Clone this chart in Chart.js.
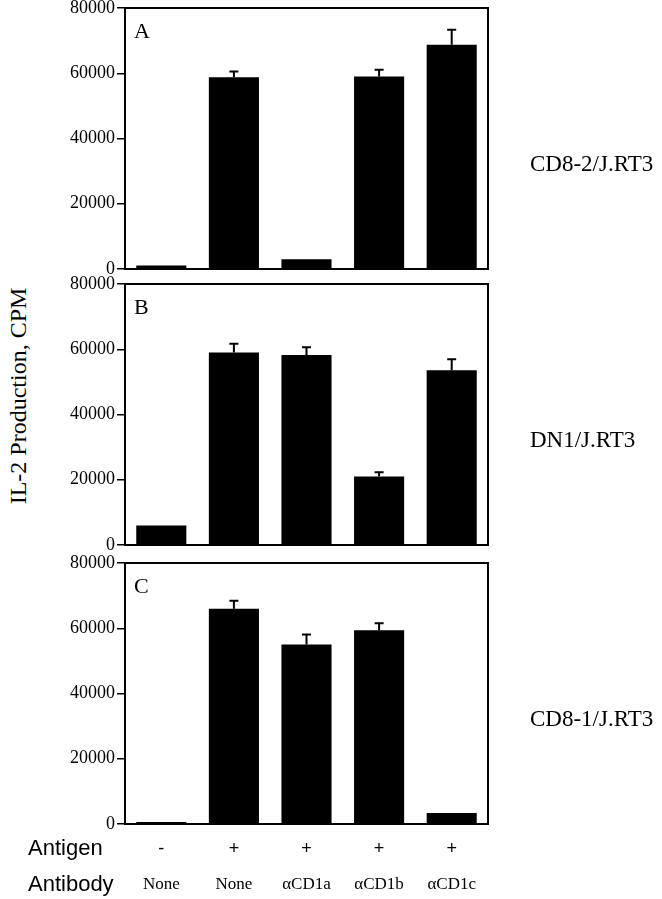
<!DOCTYPE html>
<html lang="en">
<head>
  <meta charset="UTF-8" />
  <title>IL-2 production – anti-CD1 blocking</title>
  <script src="https://cdn.jsdelivr.net/npm/chart.js@4.4.1/dist/chart.umd.min.js"></script>
  <style>
    body {
      margin: 0;
      background: #fff;
      width: 662px;
      height: 899px;
      position: relative;
      overflow: hidden;
    }
    canvas {
      position: absolute;
      left: 0;
    }
    #yTitle {
      position: absolute;
      left: 18px;
      top: 396px;
      transform: translate(-50%, -50%) rotate(-90deg);
      font: 24px "Liberation Serif", "Times New Roman", serif;
      color: #000;
      white-space: nowrap;
    }
  </style>
</head>
<body>
  <div id="yTitle">IL-2 Production, CPM</div>
  <canvas id="panelA" width="662" height="291" style="top:-7px"></canvas>
  <canvas id="panelB" width="662" height="291" style="top:269px"></canvas>
  <canvas id="panelC" width="662" height="351" style="top:548px"></canvas>

<script>
// x categories
const antigen = ['-', '+', '+', '+', '+'];
const antibody = ['None', 'None', 'αCD1a', 'αCD1b', 'αCD1c'];

// panels
const panelLetters = ['A', 'B', 'C'];
const cellLines = ['CD8-2/J.RT3', 'DN1/J.RT3', 'CD8-1/J.RT3'];

// IL-2 production (CPM) and upper error
const cpmA = [1100, 58800, 3000, 59000, 68700];
const errA = [0, 1700, 0, 2100, 4600];
const cpmB = [6000, 59000, 58200, 21000, 53600];
const errB = [0, 2700, 2400, 1300, 3300];
const cpmC = [600, 66000, 55000, 59400, 3400];
const errC = [0, 2400, 3100, 2100, 0];

const yTicks = [0, 20000, 40000, 60000, 80000];

const SERIF = '"Liberation Serif", "Times New Roman", serif';
const SANS = '"Liberation Sans", Arial, sans-serif';

const panelDecor = {
  id: 'panelDecor',
  afterDatasetsDraw(chart, args, opts) {
    const { ctx, chartArea: a, scales: { x, y } } = chart;
    const values = chart.data.datasets[0].data;
    const meta = chart.getDatasetMeta(0);
    ctx.save();
    ctx.strokeStyle = '#000';
    ctx.fillStyle = '#000';
    ctx.lineWidth = 2;

    // upper error bars
    opts.err.forEach((e, i) => {
      if (!e) return;
      const px = meta.data[i].x;
      const y0 = y.getPixelForValue(values[i]);
      const y1 = y.getPixelForValue(values[i] + e);
      ctx.beginPath();
      ctx.moveTo(px, y0);
      ctx.lineTo(px, y1);
      ctx.moveTo(px - 4.5, y1);
      ctx.lineTo(px + 4.5, y1);
      ctx.stroke();
    });

    // box round the plot
    ctx.strokeRect(a.left, a.top, a.width, a.height);

    // panel letter
    ctx.font = '22px ' + SERIF;
    ctx.textAlign = 'left';
    ctx.textBaseline = 'alphabetic';
    ctx.fillText(opts.letter, a.left + 9, a.top + 30);

    // cell line name on the right
    ctx.font = '23px ' + SERIF;
    ctx.textBaseline = 'middle';
    ctx.fillText(opts.cell, a.right + 42, a.top + a.height * 0.6);

    // antigen / antibody rows under the last panel
    if (opts.rows) {
      const rowAg = a.bottom + 25;
      const rowAb = a.bottom + 61;
      ctx.font = '22px ' + SANS;
      ctx.fillText('Antigen', 28, rowAg);
      ctx.fillText('Antibody', 28, rowAb);
      ctx.textAlign = 'center';
      ctx.font = '18px ' + SANS;
      antigen.forEach((s, i) => ctx.fillText(s, x.getPixelForValue(i), rowAg));
      ctx.font = '17px ' + SERIF;
      antibody.forEach((s, i) => ctx.fillText(s, x.getPixelForValue(i), rowAb));
    }
    ctx.restore();
  }
};

function makePanel(id, values, err, idx, bottomPad) {
  return new Chart(document.getElementById(id), {
    type: 'bar',
    data: {
      labels: antibody,
      datasets: [{
        data: values,
        backgroundColor: '#000',
        borderWidth: 0,
        barPercentage: 0.69,
        categoryPercentage: 1
      }]
    },
    options: {
      responsive: false,
      animation: false,
      layout: { padding: { left: 0, right: 174, top: 15, bottom: bottomPad } },
      plugins: {
        legend: { display: false },
        tooltip: { enabled: false },
        panelDecor: { err: err, letter: panelLetters[idx], cell: cellLines[idx], rows: idx === 2 }
      },
      scales: {
        x: { display: false },
        y: {
          min: 0,
          max: 80000,
          afterBuildTicks: s => { s.ticks = yTicks.map(v => ({ value: v })); },
          afterFit: s => { s.width = 125; },
          ticks: {
            color: '#000',
            padding: 2,
            font: { family: SERIF, size: 18 },
            callback: v => String(v)
          },
          grid: {
            drawOnChartArea: false,
            drawTicks: true,
            tickLength: 8,
            color: '#000',
            lineWidth: 1.5
          },
          border: { color: '#000', width: 2 }
        }
      }
    },
    plugins: [panelDecor]
  });
}

makePanel('panelA', cpmA, errA, 0, 15);
makePanel('panelB', cpmB, errB, 1, 15);
makePanel('panelC', cpmC, errC, 2, 75);
</script>
</body>
</html>
